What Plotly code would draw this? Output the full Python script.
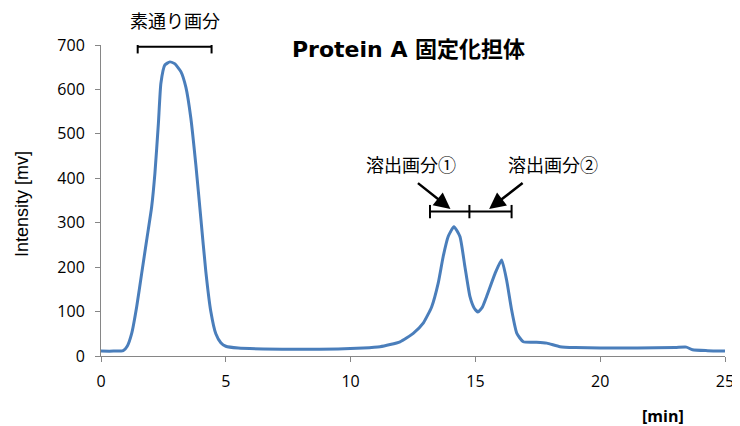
import plotly.graph_objects as go

# --- data ---
time_min = [0.0, 0.5, 0.89, 1.05, 1.23, 1.43, 1.63, 1.83, 2.03, 2.16, 2.30, 2.40, 2.56, 2.76,
            2.95, 3.2, 3.4, 3.6, 3.8, 4.0, 4.2, 4.4, 4.6, 4.8, 5.0, 5.5, 6.5, 8.0, 9.5,
            10.5, 11.18, 11.98, 12.51, 12.91, 13.25, 13.51, 13.71, 13.91, 14.14, 14.38, 14.58,
            14.78, 14.95, 15.1, 15.28, 15.45, 15.79, 16.05, 16.25, 16.45, 16.66, 16.92, 17.45,
            17.86, 18.39, 19.0, 20.0, 21.5, 23.0, 23.45, 23.7, 24.3, 25.0]
intensity_mv = [11, 11, 12, 22, 51, 111, 186, 261, 336, 411, 524, 614, 655, 662,
                658, 640, 605, 535, 430, 310, 190, 100, 50, 30, 22, 18, 16, 15, 16,
                18, 21, 32, 51, 74, 111, 164, 224, 269, 291, 269, 201,
                134, 108, 99, 110, 134, 186, 216, 171, 104, 51, 32, 31,
                29, 21, 19, 18, 18, 19, 20, 14, 12, 11]

x_ticks = [0, 5, 10, 15, 20, 25]
y_ticks = [0, 100, 200, 300, 400, 500, 600, 700]

title_text = "Protein A 固定化担体"
flow_label = "素通り画分"
elute1_label = "溶出画分①"
elute2_label = "溶出画分②"
y_title = "Intensity [mv]"
x_unit = "[min]"

# fraction brackets (x in minutes)
flow_range = [1.47, 4.43]
elute_range = [13.18, 14.76, 16.45]
flow_y = 696
elute_y = 325

JP = "Noto Sans CJK JP"
TICKFONT = "Open Sans"

# The page body has an 8px margin, so the figure is drawn 8px smaller and shifted.
PLOT_L, PLOT_T, PLOT_W, PLOT_H = 101, 45, 624, 311  # plot area in window pixels


def px_to_paper(px, py):
    return (px - PLOT_L) / PLOT_W, 1 - (py - PLOT_T) / PLOT_H


fig = go.Figure()
fig.add_trace(go.Scatter(
    x=time_min, y=intensity_mv, mode="lines",
    line=dict(color="#4A7EBB", width=3, shape="spline", smoothing=0.5),
    hoverinfo="skip", showlegend=False,
))

shapes = []


def bracket(x0, x1, y, caps):
    shapes.append(dict(type="line", xref="x", yref="y", x0=x0, x1=x1, y0=y, y1=y,
                       line=dict(color="black", width=2)))
    for c in caps:
        shapes.append(dict(type="line", xref="x", yref="y", x0=c, x1=c,
                           y0=y - 15, y1=y + 15, line=dict(color="black", width=2)))


bracket(flow_range[0], flow_range[1], flow_y, flow_range)
bracket(elute_range[0], elute_range[2], elute_y, elute_range)

tx, ty = px_to_paper(408, 50)
ux, uy = px_to_paper(663, 416)
yx, yy = px_to_paper(22, 204)

annotations = [
    dict(text="<b>" + title_text + "</b>", xref="paper", yref="paper", x=tx, y=ty,
         showarrow=False, xanchor="center", yanchor="middle",
         font=dict(family="DejaVu Sans, " + JP, size=22, color="black")),
    dict(text=flow_label, xref="x", yref="y", x=sum(flow_range) / 2, y=flow_y,
         yshift=27, showarrow=False, font=dict(family=JP, size=18, color="black")),
    dict(text=elute1_label, xref="x", yref="y", x=12.4, y=elute_y,
         yshift=48, showarrow=False, font=dict(family=JP, size=18, color="black")),
    dict(text=elute2_label, xref="x", yref="y", x=18.1, y=elute_y,
         yshift=48, showarrow=False, font=dict(family=JP, size=18, color="black")),
    # arrows
    dict(x=14.0, y=elute_y + 6, xref="x", yref="y", ax=-34, ay=-27, text="",
         showarrow=True, arrowhead=2, arrowsize=1.3, arrowwidth=2.5, arrowcolor="black"),
    dict(x=15.55, y=elute_y + 6, xref="x", yref="y", ax=35, ay=-27, text="",
         showarrow=True, arrowhead=2, arrowsize=1.3, arrowwidth=2.5, arrowcolor="black"),
    dict(text="<b>" + x_unit + "</b>", xref="paper", yref="paper", x=ux, y=uy,
         showarrow=False, xanchor="center", yanchor="middle",
         font=dict(family=TICKFONT, size=16, color="black")),
    dict(text=y_title, xref="paper", yref="paper", x=yx, y=yy, textangle=-90,
         showarrow=False, xanchor="center", yanchor="middle",
         font=dict(family="Liberation Sans Narrow, Liberation Sans", size=18, color="black")),
]

fig.update_layout(
    width=732, height=418,
    margin=dict(l=PLOT_L - 8, r=15, t=PLOT_T - 8, b=70, autoexpand=False),
    paper_bgcolor="white", plot_bgcolor="white",
    shapes=shapes, annotations=annotations,
    showlegend=False,
)
fig.update_xaxes(
    range=[0, 25], tickvals=x_ticks, showgrid=False, zeroline=False,
    showline=True, linecolor="#868686", linewidth=1, automargin=False,
    ticks="outside", ticklen=5, tickcolor="#868686", ticklabelstandoff=6,
    tickfont=dict(family=TICKFONT, size=16, color="black"),
)
fig.update_yaxes(
    range=[0, 700], tickvals=y_ticks, showgrid=False, zeroline=False,
    showline=True, linecolor="#868686", linewidth=1, automargin=False,
    ticks="outside", ticklen=5, tickcolor="#868686", ticklabelstandoff=7,
    tickfont=dict(family=TICKFONT, size=16, color="black"),
)

fig.write_html("out.html")
